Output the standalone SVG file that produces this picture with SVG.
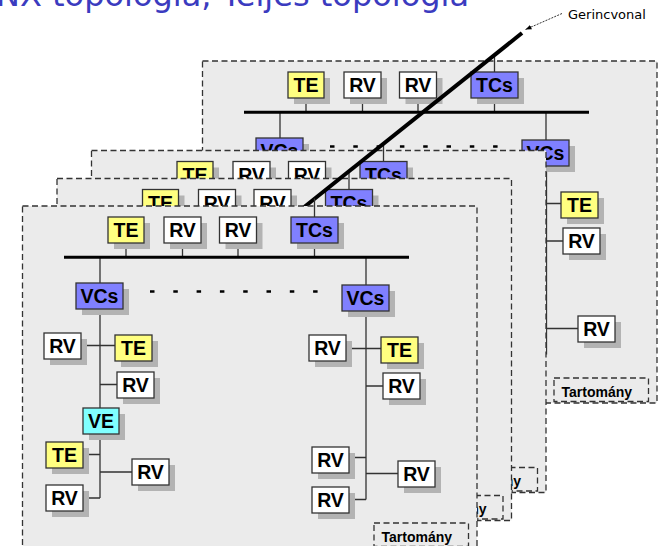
<svg xmlns="http://www.w3.org/2000/svg" xmlns:xlink="http://www.w3.org/1999/xlink" width="666" height="546" viewBox="0 0 666 546">
<style>
.pn{fill:#ebebeb;stroke:#333;stroke-width:1.3;stroke-dasharray:6 3.5}
.sh{fill:#b3b3b3}
.bx{stroke:#333;stroke-width:1.3}
.te{fill:#ffff80}.rv{fill:#fff}.tc{fill:#8080ff}.ve{fill:#80ffff}
.lb{font-family:"Liberation Sans",Arial,sans-serif;font-weight:bold;font-size:19.5px;text-anchor:middle;fill:#000}
.ln{stroke:#333;stroke-width:1.3;fill:none}
.bus{stroke:#000;stroke-width:3;fill:none}
.dots{stroke:#000;stroke-width:2.5;stroke-dasharray:4.5 18.8;fill:none}
.tb{fill:none;stroke:#333;stroke-width:1.3;stroke-dasharray:6 3.5}
.tt{font-family:"Liberation Sans",Arial,sans-serif;font-weight:bold;font-size:14px;fill:#000}
</style>
<defs>
<marker id="ah" viewBox="0 0 10 10" refX="10" refY="5" markerWidth="6" markerHeight="6" orient="auto" markerUnits="userSpaceOnUse"><path d="M0,1 L10,5 L0,9 z" fill="#000"/></marker>
</defs>
<rect width="666" height="546" fill="#fff"/>
<g id="title"><text x="-4" y="5.5" font-family="DejaVu Sans,sans-serif" font-size="32" fill="#3b3bbf">NX topológia, Teljes topológia</text></g>

<!-- Panel 4 (back) -->
<g id="panel4" transform="translate(180,-145)">
<rect class="pn" x="22.5" y="206" width="454.5" height="342"/>
<g id="p4-connectors">
<path class="ln" d="M314.5 217V199M126 243V257M182.5 243V257M238 243V257M314.5 243V257M100 257V283M366 257V285M366.5 311V499.5M366 348.5H381M366 386H383M366 473.5H398"/>
<path class="bus" d="M64 257.3H409"/>
<path class="dots" d="M150 291.5H320"/>
</g>
<g id="p4-te1"><rect class="sh" x="114" y="223" width="36" height="26"/><rect class="bx te" x="108" y="217" width="36" height="26"/><text class="lb" x="126" y="237">TE</text></g>
<g id="p4-rv1"><rect class="sh" x="170" y="223" width="37" height="26"/><rect class="bx rv" x="164" y="217" width="37" height="26"/><text class="lb" x="182.5" y="237">RV</text></g>
<g id="p4-rv2"><rect class="sh" x="225.5" y="223" width="37" height="26"/><rect class="bx rv" x="219.5" y="217" width="37" height="26"/><text class="lb" x="238" y="237">RV</text></g>
<g id="p4-tcs"><rect class="sh" x="297" y="223" width="47" height="26"/><rect class="bx tc" x="291" y="217" width="47" height="26"/><text class="lb" x="314.5" y="237">TCs</text></g>
<g id="p4-vcsl"><rect class="sh" x="82" y="289" width="47" height="26"/><rect class="bx tc" x="76" y="283" width="47" height="26"/><text class="lb" x="99.5" y="303">VCs</text></g>
<g id="p4-vcsr"><rect class="sh" x="348" y="291" width="47" height="26"/><rect class="bx tc" x="342" y="285" width="47" height="26"/><text class="lb" x="365.5" y="305">VCs</text></g>
<g id="p4-te-r"><rect class="sh" x="387" y="343" width="37" height="26"/><rect class="bx te" x="381" y="337" width="37" height="26"/><text class="lb" x="399.5" y="357">TE</text></g>
<g id="p4-rv-r1"><rect class="sh" x="389" y="379" width="37" height="26"/><rect class="bx rv" x="383" y="373" width="37" height="26"/><text class="lb" x="401.5" y="393">RV</text></g>
<g id="p4-rv-r2"><rect class="sh" x="404" y="467" width="37" height="26"/><rect class="bx rv" x="398" y="461" width="37" height="26"/><text class="lb" x="416.5" y="481">RV</text></g>
<g id="p4-tart"><rect class="tb" x="374" y="523" width="94.5" height="23.5"/><text class="tt" x="381.5" y="541.5">Tartomány</text></g>
</g>

<!-- Panel 3 -->
<g id="panel3" transform="translate(69,-55.5)">
<rect class="pn" x="22.5" y="206" width="454.5" height="342"/>
<g id="p3-connectors"><path class="ln" d="M314.5 217V199"/></g>
<g id="p3-te1"><rect class="sh" x="114" y="223" width="36" height="26"/><rect class="bx te" x="108" y="217" width="36" height="26"/><text class="lb" x="126" y="237">TE</text></g>
<g id="p3-rv1"><rect class="sh" x="170" y="223" width="37" height="26"/><rect class="bx rv" x="164" y="217" width="37" height="26"/><text class="lb" x="182.5" y="237">RV</text></g>
<g id="p3-rv2"><rect class="sh" x="225.5" y="223" width="37" height="26"/><rect class="bx rv" x="219.5" y="217" width="37" height="26"/><text class="lb" x="238" y="237">RV</text></g>
<g id="p3-tcs"><rect class="sh" x="297" y="223" width="47" height="26"/><rect class="bx tc" x="291" y="217" width="47" height="26"/><text class="lb" x="314.5" y="237">TCs</text></g>
<g id="p3-tart"><rect class="tb" x="374" y="523" width="94.5" height="23.5"/><text class="tt" x="381.5" y="541.5">Tartomány</text></g>
</g>

<!-- Panel 2 -->
<g id="panel2" transform="translate(34.5,-27.5)">
<rect class="pn" x="22.5" y="206" width="454.5" height="342"/>
<g id="p2-connectors"><path class="ln" d="M314.5 217V199"/></g>
<g id="p2-te1"><rect class="sh" x="114" y="223" width="36" height="26"/><rect class="bx te" x="108" y="217" width="36" height="26"/><text class="lb" x="126" y="237">TE</text></g>
<g id="p2-rv1"><rect class="sh" x="170" y="223" width="37" height="26"/><rect class="bx rv" x="164" y="217" width="37" height="26"/><text class="lb" x="182.5" y="237">RV</text></g>
<g id="p2-rv2"><rect class="sh" x="225.5" y="223" width="37" height="26"/><rect class="bx rv" x="219.5" y="217" width="37" height="26"/><text class="lb" x="238" y="237">RV</text></g>
<g id="p2-tcs"><rect class="sh" x="297" y="223" width="47" height="26"/><rect class="bx tc" x="291" y="217" width="47" height="26"/><text class="lb" x="314.5" y="237">TCs</text></g>
<g id="p2-tart"><rect class="tb" x="374" y="523" width="94.5" height="23.5"/><text class="tt" x="381.5" y="541.5">Tartomány</text></g>
</g>

<!-- Backbone -->
<g id="backbone"><path d="M522 33L303 208" stroke="#000" stroke-width="4" fill="none"/></g>

<!-- Panel 1 (front) -->
<g id="panel1">
<rect class="pn" x="22.5" y="206" width="454.5" height="342"/>
<g id="p1-connectors">
<path class="ln" d="M314.5 217V198.5M126 243V257M182.5 243V257M238 243V257M314.5 243V257M100 257V283M366 257V285M100 309V498M81 345.5H115M100 384.5H117M83 454.5H100M100 472H132M83 498H100M366 311V499.5M346 348.5H381M366 386H383M349 457.5H366M366 473.5H398M349 499.5H366"/>
<path class="bus" d="M64 257.3H409"/>
<path class="dots" d="M150 291.5H320"/>
</g>
<g id="p1-te1"><rect class="sh" x="114" y="223" width="36" height="26"/><rect class="bx te" x="108" y="217" width="36" height="26"/><text class="lb" x="126" y="237">TE</text></g>
<g id="p1-rv1"><rect class="sh" x="170" y="223" width="37" height="26"/><rect class="bx rv" x="164" y="217" width="37" height="26"/><text class="lb" x="182.5" y="237">RV</text></g>
<g id="p1-rv2"><rect class="sh" x="225.5" y="223" width="37" height="26"/><rect class="bx rv" x="219.5" y="217" width="37" height="26"/><text class="lb" x="238" y="237">RV</text></g>
<g id="p1-tcs"><rect class="sh" x="297" y="223" width="47" height="26"/><rect class="bx tc" x="291" y="217" width="47" height="26"/><text class="lb" x="314.5" y="237">TCs</text></g>
<g id="p1-vcsl"><rect class="sh" x="82" y="289" width="47" height="26"/><rect class="bx tc" x="76" y="283" width="47" height="26"/><text class="lb" x="99.5" y="303">VCs</text></g>
<g id="p1-vcsr"><rect class="sh" x="348" y="291" width="47" height="26"/><rect class="bx tc" x="342" y="285" width="47" height="26"/><text class="lb" x="365.5" y="305">VCs</text></g>
<g id="p1-rv-l1"><rect class="sh" x="50" y="339" width="37" height="26"/><rect class="bx rv" x="44" y="333" width="37" height="26"/><text class="lb" x="62.5" y="353">RV</text></g>
<g id="p1-te-l1"><rect class="sh" x="121" y="341" width="37" height="26"/><rect class="bx te" x="115" y="335" width="37" height="26"/><text class="lb" x="133.5" y="355">TE</text></g>
<g id="p1-rv-l2"><rect class="sh" x="123" y="378" width="37" height="26"/><rect class="bx rv" x="117" y="372" width="37" height="26"/><text class="lb" x="135.5" y="392">RV</text></g>
<g id="p1-ve"><rect class="sh" x="89" y="414" width="36" height="26"/><rect class="bx ve" x="83" y="408" width="36" height="26"/><text class="lb" x="101" y="428">VE</text></g>
<g id="p1-te-l2"><rect class="sh" x="52" y="448" width="37" height="26"/><rect class="bx te" x="46" y="442" width="37" height="26"/><text class="lb" x="64.5" y="462">TE</text></g>
<g id="p1-rv-l3"><rect class="sh" x="138" y="465" width="37" height="26"/><rect class="bx rv" x="132" y="459" width="37" height="26"/><text class="lb" x="150.5" y="479">RV</text></g>
<g id="p1-rv-l4"><rect class="sh" x="52" y="491" width="37" height="26"/><rect class="bx rv" x="46" y="485" width="37" height="26"/><text class="lb" x="64.5" y="505">RV</text></g>
<g id="p1-rv-r1"><rect class="sh" x="315" y="341" width="37" height="26"/><rect class="bx rv" x="309" y="335" width="37" height="26"/><text class="lb" x="327.5" y="355">RV</text></g>
<g id="p1-te-r"><rect class="sh" x="387" y="343" width="37" height="26"/><rect class="bx te" x="381" y="337" width="37" height="26"/><text class="lb" x="399.5" y="357">TE</text></g>
<g id="p1-rv-r2"><rect class="sh" x="389" y="379" width="37" height="26"/><rect class="bx rv" x="383" y="373" width="37" height="26"/><text class="lb" x="401.5" y="393">RV</text></g>
<g id="p1-rv-r3"><rect class="sh" x="318" y="453" width="37" height="26"/><rect class="bx rv" x="312" y="447" width="37" height="26"/><text class="lb" x="330.5" y="467">RV</text></g>
<g id="p1-rv-r4"><rect class="sh" x="404" y="467" width="37" height="26"/><rect class="bx rv" x="398" y="461" width="37" height="26"/><text class="lb" x="416.5" y="481">RV</text></g>
<g id="p1-rv-r5"><rect class="sh" x="318" y="493" width="37" height="26"/><rect class="bx rv" x="312" y="487" width="37" height="26"/><text class="lb" x="330.5" y="507">RV</text></g>
<g id="p1-tart"><rect class="tb" x="374" y="523" width="94.5" height="23.5"/><text class="tt" x="381.5" y="541.5">Tartomány</text></g>
</g>

<!-- Backbone label -->
<g id="gerinc-label">
<path d="M562 13.5L525.5 29.5" stroke="#000" stroke-width="0.8" stroke-dasharray="2 1.2" fill="none" marker-end="url(#ah)"/>
<text x="568" y="18.5" font-family="DejaVu Sans,sans-serif" font-size="13" fill="#000">Gerincvonal</text>
</g>
</svg>
